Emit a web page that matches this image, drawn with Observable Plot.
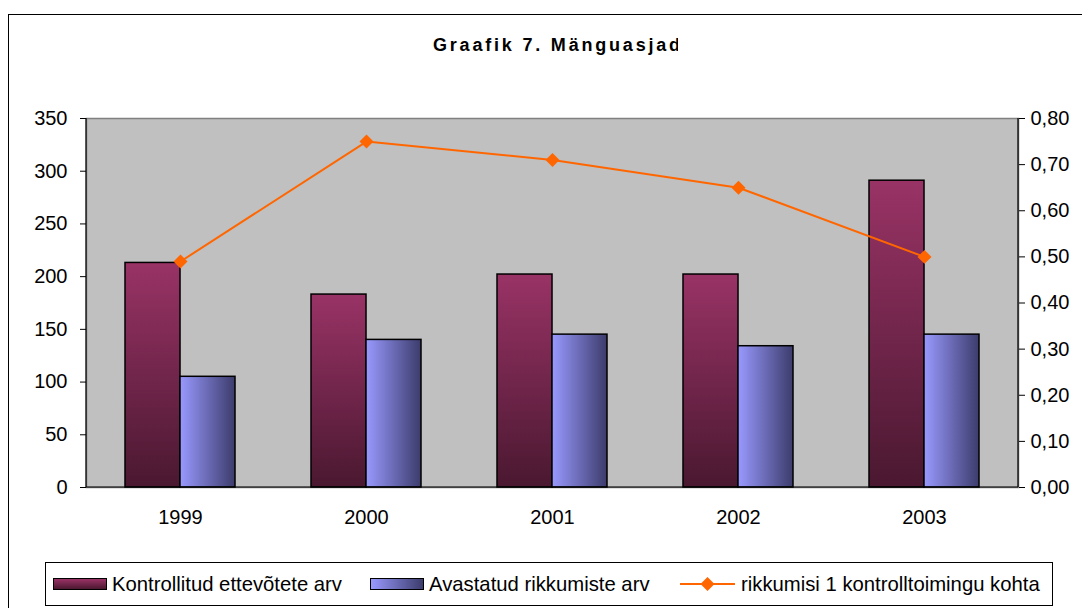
<!DOCTYPE html>
<html>
<head>
<meta charset="utf-8">
<script src="https://cdn.jsdelivr.net/npm/d3@7"></script>
<script src="https://cdn.jsdelivr.net/npm/@observablehq/plot@0.6"></script>
<style>
  body { margin: 0; background: #fff; }
  #wrap { position: relative; width: 1082px; height: 608px; overflow: hidden; font-family: "Liberation Sans", Arial, sans-serif; background: #fff; }
  #frame { position: absolute; left: 8px; top: 14px; width: 1100px; height: 620px; border: 1.5px solid #000; box-sizing: border-box; pointer-events: none; z-index: 5; }
  #mask { position: absolute; left: 0; top: 0; width: 8px; height: 608px; background: #fff; z-index: 4; }
  #title { position: absolute; left: 433px; top: 35px; width: 245px; overflow: hidden; white-space: nowrap; font-weight: bold; font-size: 18px; letter-spacing: 2.8px; color: #000; z-index: 4; }
  #chart { position: absolute; left: 0; top: 0; z-index: 1; }
  #legend { position: absolute; left: 45px; top: 562px; width: 1008px; height: 44px; border: 1px solid #000; box-sizing: border-box; background: #fff; font-size: 20.3px; color: #000; z-index: 3; }
  .item { position: absolute; top: 0; height: 42px; display: flex; align-items: center; white-space: nowrap; }
  .sw { width: 54px; height: 12px; border: 1.5px solid #000; box-sizing: border-box; margin-right: 5px; }
</style>
</head>
<body>
<div id="wrap">
  <div id="chart"></div>
  <div id="title">Graafik 7. Mänguasjad</div>
  <div id="legend"></div>
  <div id="mask"></div>
  <div id="frame"></div>
</div>
<script>
const years = ["1999", "2000", "2001", "2002", "2003"];
const kontrollitud = [213, 183, 202, 202, 291];
const avastatud = [105, 140, 145, 134, 145];
const suhe = [0.49, 0.75, 0.71, 0.65, 0.50];
const leftTicks = [0, 50, 100, 150, 200, 250, 300, 350];
const rightTicks = [0, 0.1, 0.2, 0.3, 0.4, 0.5, 0.6, 0.7, 0.8];
const seriesNames = ["Kontrollitud ettevõtete arv", "Avastatud rikkumiste arv", "rikkumisi 1 kontrolltoimingu kohta"];
const colors = { maroonTop: "#993366", maroonBottom: "#4a1830", blueLeft: "#9999ff", blueRight: "#3c3c6c", line: "#ff6600", plotBg: "#c0c0c0" };

const yMax = 350, rMax = 0.8, k = yMax / rMax;
const data = years.map((y, i) => ({ year: y, a: kontrollitud[i], b: avastatud[i], r: suhe[i] }));

const W = 1082, H = 545, mL = 86, mR = 64, mT = 118, mB = H - 487;
const barHalf = ((W - mL - mR) / years.length) * (1 - 0.41) / 2;

function axisLines(index, scales, values, dim) {
  const g = document.createElementNS("http://www.w3.org/2000/svg", "g");
  const x0 = dim.marginLeft, x1 = dim.width - dim.marginRight;
  const y0 = dim.marginTop, y1 = dim.height - dim.marginBottom;
  const step = scales.x(years[1]) - scales.x(years[0]);
  const bw = scales.x.bandwidth || 0;
  let s = `<line x1="${x0}" x2="${x0}" y1="${y0}" y2="${y1}" stroke="#000" stroke-width="1.2"/>`;
  s += `<line x1="${x1}" x2="${x1}" y1="${y0}" y2="${y1}" stroke="#000" stroke-width="1.2"/>`;
  s += `<line x1="${x0}" x2="${x1}" y1="${y1}" y2="${y1}" stroke="#000" stroke-width="1.2"/>`;
  const bounds = years.map(yy => scales.x(yy) + bw / 2 - step / 2);
  bounds.push(scales.x(years[years.length - 1]) + bw / 2 + step / 2);
  for (const bx of bounds) s += `<line x1="${bx}" x2="${bx}" y1="${y1}" y2="${y1 + 6}" stroke="#000" stroke-width="1.2"/>`;
  g.innerHTML = s;
  return g;
}

const chart = Plot.plot({
  width: W, height: H,
  marginLeft: mL, marginRight: mR, marginTop: mT, marginBottom: mB,
  style: { background: "transparent", fontFamily: "'Liberation Sans', Arial, sans-serif", fontSize: "20px", color: "#000", overflow: "visible" },
  x: { domain: years, paddingInner: 0.41, paddingOuter: 0.205, label: null },
  y: { domain: [0, yMax], label: null },
  marks: [
    Plot.frame({ fill: colors.plotBg, stroke: "#808080", strokeWidth: 1.5 }),
    Plot.barY(data, { x: "year", y: "a", fill: "url(#gMaroon)", stroke: "#000", strokeWidth: 1.5, insetRight: barHalf, insetLeft: 0 }),
    Plot.barY(data, { x: "year", y: "b", fill: "url(#gBlue)", stroke: "#000", strokeWidth: 1.5, insetLeft: barHalf, insetRight: 0 }),
    axisLines,
    Plot.line(data, { x: "year", y: d => d.r * k, stroke: colors.line, strokeWidth: 2 }),
    Plot.dot(data, { x: "year", y: d => d.r * k, symbol: "diamond2", r: 6.3, fill: colors.line, stroke: "none" }),
    Plot.axisY(leftTicks, { anchor: "left", label: null, tickSize: 6, tickPadding: 13, fontSize: 20, tickFormat: d => String(d), stroke: "#000", fill: "#000" }),
    Plot.axisY(rightTicks.map(v => v * k), { anchor: "right", label: null, tickSize: 6, tickPadding: 6, fontSize: 20, tickFormat: d => (d / k).toFixed(2).replace(".", ","), stroke: "#000", fill: "#000" }),
    Plot.axisX(years, { anchor: "bottom", label: null, tickSize: 0, tickPadding: 22, fontSize: 20, fill: "#000" })
  ]
});
const defs = document.createElementNS("http://www.w3.org/2000/svg", "defs");
defs.innerHTML = `
  <linearGradient id="gMaroon" x1="0" y1="0" x2="0" y2="1">
    <stop offset="0" stop-color="${colors.maroonTop}"/>
    <stop offset="1" stop-color="${colors.maroonBottom}"/>
  </linearGradient>
  <linearGradient id="gBlue" x1="0" y1="0" x2="1" y2="0">
    <stop offset="0" stop-color="${colors.blueLeft}"/>
    <stop offset="1" stop-color="${colors.blueRight}"/>
  </linearGradient>`;
chart.insertBefore(defs, chart.firstChild);
document.getElementById("chart").appendChild(chart);

const legend = document.getElementById("legend");
const pos = [7, 324, 634];
const sw = [
  `<div class="sw" style="background:linear-gradient(to bottom, ${colors.maroonTop}, ${colors.maroonBottom})"></div>`,
  `<div class="sw" style="background:linear-gradient(to right, ${colors.blueLeft}, ${colors.blueRight})"></div>`,
  `<svg width="55" height="16" style="margin-right:6px"><line x1="0" x2="55" y1="8" y2="8" stroke="${colors.line}" stroke-width="2"/><path d="M27.5,1L34.5,8L27.5,15L20.5,8Z" fill="${colors.line}"/></svg>`
];
seriesNames.forEach((n, i) => {
  const d = document.createElement("div");
  d.className = "item";
  d.style.left = pos[i] + "px";
  d.innerHTML = sw[i] + `<span>${n}</span>`;
  legend.appendChild(d);
});
</script>
</body>
</html>
